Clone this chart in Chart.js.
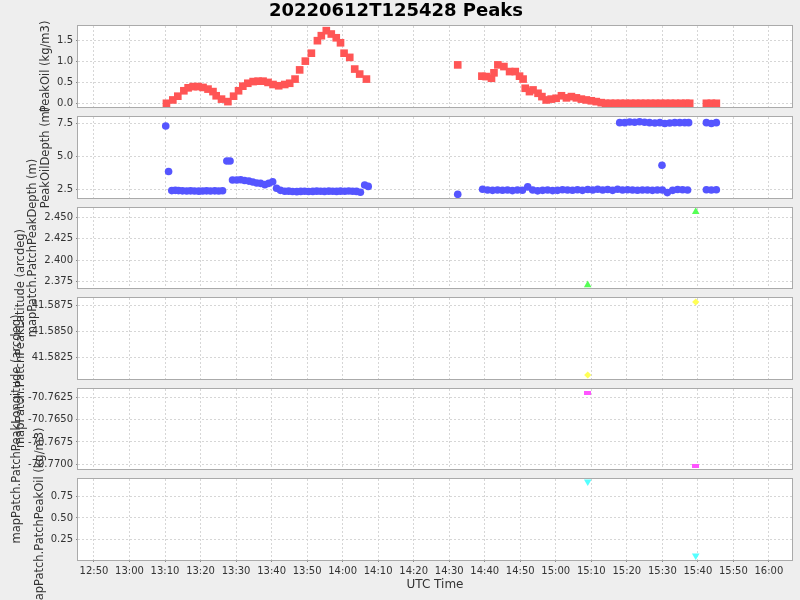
<!DOCTYPE html>
<html>
<head>
<meta charset="utf-8">
<title>20220612T125428 Peaks</title>
<script src="https://cdn.jsdelivr.net/npm/chart.js@4.4.0/dist/chart.umd.min.js"></script>
<style>
  html, body { margin: 0; padding: 0; background: #eeeeee; }
  #wrap { position: relative; width: 800px; height: 600px; overflow: hidden; }
  #wrap canvas { position: absolute; left: 0; top: 0; }
</style>
</head>
<body>
<div id="wrap"></div>
<script>
// times are minutes after 00:00 UTC
const timeTicks = ['12:50', '13:00', '13:10', '13:20', '13:30', '13:40', '13:50', '14:00', '14:10', '14:20',
    '14:30', '14:40', '14:50', '15:00', '15:10', '15:20', '15:30', '15:40', '15:50', '16:00'];

const oilTimes = [790.4, 792.2, 793.6, 795.3, 796.5, 797.9, 799.3, 800.7, 802.1, 803.5, 804.4, 805.9, 807.7,
    809.3, 810.7, 811.9, 813.3, 814.8, 816.2, 817.6, 819.0, 820.4, 822.0, 823.7, 825.1, 826.6, 827.9, 829.5,
    831.2, 832.9, 834.0, 835.4, 836.8, 838.2, 839.4, 840.4, 842.0, 843.4, 844.8, 846.7,
    872.4, 879.2, 880.4, 881.9, 882.6, 883.7, 885.4, 887.0, 888.6, 889.8, 890.8, 891.4, 892.6, 893.6, 895.0,
    896.1, 897.3, 898.7, 900.1, 901.6, 903.0, 904.4, 905.8, 907.2, 908.6, 910.0, 911.4, 912.8,
    914.0, 915.4, 916.8, 918.2, 919.6, 921.1, 922.5, 923.9, 925.3, 926.7, 928.1, 929.5, 930.9, 932.3, 933.7,
    935.2, 936.6, 937.7, 942.4, 943.8, 945.2];
const oilValues = [0.00, 0.08, 0.17, 0.30, 0.37, 0.40, 0.40, 0.38, 0.34, 0.28, 0.18, 0.10, 0.04,
    0.17, 0.30, 0.41, 0.48, 0.52, 0.53, 0.53, 0.50, 0.45, 0.42, 0.45, 0.48, 0.58, 0.80, 1.01,
    1.20, 1.50, 1.62, 1.74, 1.66, 1.57, 1.45, 1.20, 1.10, 0.82, 0.70, 0.58,
    0.92, 0.65, 0.64, 0.60, 0.73, 0.92, 0.88, 0.76, 0.76, 0.65, 0.58, 0.36, 0.28, 0.32, 0.24,
    0.16, 0.08, 0.10, 0.12, 0.18, 0.13, 0.16, 0.13, 0.10, 0.08, 0.06, 0.04, 0.015,
    0, 0, 0, 0, 0, 0, 0, 0, 0, 0, 0, 0, 0, 0, 0,
    0, 0, 0, 0, 0, 0];

const depthTimes = [790.2, 791.0, 791.9, 792.9, 793.8, 794.9, 796.1, 797.2, 798.3, 799.5, 800.6, 801.7, 802.8,
    804.0, 805.1, 806.2, 807.4, 808.3, 809.0, 810.2, 811.3, 812.4, 813.6, 814.7, 815.8, 816.9, 818.1, 819.2,
    820.3, 821.4, 822.5, 823.7, 824.8, 825.9, 827.1, 828.2, 829.3, 830.4, 831.6, 832.7, 833.8, 834.9, 836.1,
    837.2, 838.3, 839.4, 840.6, 841.7, 842.8, 843.9, 845.0, 846.2, 847.2,
    872.4, 879.4, 880.8, 882.2, 883.6, 885.0, 886.4, 887.8, 889.2, 890.6, 892.1, 893.5, 894.9, 896.3, 897.7,
    899.1, 900.5, 901.9, 903.3, 904.7, 906.1, 907.5, 909.0, 910.4, 911.8, 913.2, 914.6, 916.0, 917.4, 918.8,
    920.2, 921.6, 923.0, 924.4, 925.8, 927.2, 928.6, 930.0, 931.4, 932.9, 934.3, 935.7, 937.1,
    918.0, 919.4, 920.8, 922.2, 923.6, 925.0, 926.4, 927.9, 929.3, 930.7, 932.1, 933.5, 934.9, 936.3, 937.4,
    929.9, 942.4, 943.8, 945.2, 942.4, 943.8, 945.2];
const depthValues = [7.30, 3.85, 2.40, 2.42, 2.40, 2.38, 2.37, 2.38, 2.37, 2.36, 2.37, 2.38, 2.37,
    2.38, 2.37, 2.39, 4.64, 4.64, 3.20, 3.20, 3.22, 3.17, 3.12, 3.05, 2.98, 2.95, 2.85, 2.95,
    3.07, 2.58, 2.42, 2.35, 2.36, 2.33, 2.32, 2.34, 2.35, 2.33, 2.34, 2.36, 2.35, 2.34, 2.36,
    2.35, 2.34, 2.36, 2.35, 2.37, 2.35, 2.34, 2.28, 2.83, 2.72,
    2.12, 2.50, 2.45, 2.42, 2.45, 2.43, 2.45, 2.40, 2.45, 2.43, 2.68, 2.45, 2.38, 2.42, 2.45,
    2.40, 2.42, 2.47, 2.45, 2.43, 2.47, 2.42, 2.48, 2.45, 2.50, 2.45, 2.48, 2.42, 2.50, 2.45,
    2.47, 2.45, 2.43, 2.45, 2.45, 2.42, 2.45, 2.45, 2.25, 2.42, 2.48, 2.47, 2.45,
    7.55, 7.55, 7.60, 7.58, 7.62, 7.58, 7.55, 7.52, 7.55, 7.48, 7.52, 7.55, 7.55, 7.55, 7.55,
    4.32, 7.55, 7.48, 7.55, 2.47, 2.45, 2.47];

const patchTimes = [909.0, 939.4];
const patchDepth = [2.3712, 2.4565];
const patchLatitude = [41.58081, 41.58779];
const patchLongitude = [-70.76199, -70.77016];
const patchOil = [0.926, 0.058];

const oilTicks = [0, 0.5, 1.0, 1.5];
const depthTicks = [2.5, 5.0, 7.5];
const patchDepthTicks = [2.375, 2.400, 2.425, 2.450];
const latTicks = [41.5825, 41.5850, 41.5875];
const lonTicks = [-70.7700, -70.7675, -70.7650, -70.7625];
const patchOilTicks = [0.25, 0.50, 0.75];

function toMinutes(s) {
    const p = s.split(':');
    return parseInt(p[0]) * 60 + parseInt(p[1]);
}

function hhmm(m) {
    const h = Math.floor(m / 60);
    const mm = Math.round(m - h * 60);
    return h + ':' + String(mm).padStart(2, '0');
}

function pairs(xs, ys) {
    return xs.map((x, i) => ({ x: x, y: ys[i] }));
}

function rectMarker(w, h, color) {
    const c = document.createElement('canvas');
    c.width = w;
    c.height = h;
    const g = c.getContext('2d');
    g.fillStyle = color;
    g.fillRect(0, 0, w, h);
    return c;
}

const FONT = 'DejaVu Sans';
const GRID = '#d6d6d6';
const TEXT = '#333333';
const tickValues = timeTicks.map(toMinutes);

// white plot area + grey outline
const plotFrame = {
    id: 'plotFrame',
    beforeDraw(chart) {
        const a = chart.chartArea, ctx = chart.ctx;
        ctx.save();
        ctx.fillStyle = '#ffffff';
        ctx.fillRect(a.left, a.top, a.right - a.left, a.bottom - a.top);
        ctx.restore();
    },
    afterDraw(chart) {
        const a = chart.chartArea, ctx = chart.ctx;
        ctx.save();
        ctx.strokeStyle = '#aaaaaa';
        ctx.lineWidth = 1;
        ctx.strokeRect(a.left - 0.5, a.top - 0.5, a.right - a.left + 1, a.bottom - a.top + 1);
        ctx.restore();
    }
};

// rotated y axis label, allowed to run past the plot like the original
const sideLabel = {
    id: 'sideLabel',
    afterDraw(chart, args, opts) {
        if (!opts || !opts.text) return;
        const a = chart.chartArea, ctx = chart.ctx;
        const ys = chart.scales.y;
        ctx.save();
        ctx.font = '10px "' + FONT + '"';
        let maxW = 0;
        ys.ticks.forEach(t => {
            maxW = Math.max(maxW, ctx.measureText(t.label).width);
        });
        const x = a.left - 5 - maxW - 5 - 6;
        ctx.translate(x, (a.top + a.bottom) / 2);
        ctx.rotate(-Math.PI / 2);
        ctx.font = '11.5px "' + FONT + '"';
        ctx.fillStyle = TEXT;
        ctx.textAlign = 'center';
        ctx.textBaseline = 'middle';
        ctx.fillText(opts.text, 0, 0);
        ctx.restore();
    }
};

const bands = [[26, 107], [117, 198], [208, 288], [298, 379], [389, 469], [479, 560]];
const wrap = document.getElementById('wrap');

function makeChart(idx, spec) {
    const canvas = document.createElement('canvas');
    canvas.width = 800;
    canvas.height = 600;
    wrap.appendChild(canvas);
    const band = bands[idx];
    const first = idx === 0;
    const last = idx === bands.length - 1;

    return new Chart(canvas.getContext('2d'), {
        type: 'scatter',
        data: {
            datasets: [{
                data: pairs(spec.xs, spec.ys),
                backgroundColor: spec.color,
                borderWidth: 0,
                pointStyle: spec.style,
                pointRadius: spec.radius,
                pointRotation: spec.rotation || 0,
                pointHoverRadius: spec.radius
            }]
        },
        options: {
            responsive: false,
            animation: false,
            events: [],
            layout: {
                padding: {
                    left: 0,
                    right: 8,
                    top: first ? 0 : band[0],
                    bottom: last ? 0 : 600 - band[1]
                }
            },
            plugins: {
                legend: { display: false },
                tooltip: { enabled: false },
                title: {
                    display: first,
                    text: '20220612T125428 Peaks',
                    color: '#000000',
                    font: { family: FONT, size: 18, weight: 'bold' },
                    padding: { top: 1, bottom: 3.4 }
                },
                sideLabel: { text: spec.label }
            },
            scales: {
                x: {
                    type: 'linear',
                    min: 765.5,
                    max: 966.5,
                    afterBuildTicks: s => { s.ticks = tickValues.map(v => ({ value: v })); },
                    afterFit: s => { s.height = last ? 40 : 0; },
                    grid: {
                        color: GRID,
                        drawTicks: last,
                        tickLength: 2,
                        tickColor: '#888888'
                    },
                    border: { display: false, dash: [2, 2] },
                    ticks: {
                        display: last,
                        autoSkip: false,
                        maxRotation: 0,
                        padding: 3,
                        color: TEXT,
                        font: { family: FONT, size: 10 },
                        callback: v => hhmm(v)
                    },
                    title: {
                        display: last,
                        text: 'UTC Time',
                        color: TEXT,
                        font: { family: FONT, size: 12 },
                        padding: { top: 0, bottom: 8 }
                    }
                },
                y: {
                    min: spec.min,
                    max: spec.max,
                    afterBuildTicks: s => { s.ticks = spec.ticks.map(v => ({ value: v })); },
                    afterFit: s => { s.width = 78; },
                    grid: {
                        color: GRID,
                        drawTicks: true,
                        tickLength: 2,
                        tickColor: '#888888'
                    },
                    border: { display: false, dash: [2, 2] },
                    ticks: {
                        padding: 3,
                        color: TEXT,
                        font: { family: FONT, size: 10 },
                        callback: v => Number(v).toFixed(spec.decimals)
                    }
                }
            }
        },
        plugins: [plotFrame, sideLabel]
    });
}

makeChart(0, {
    xs: oilTimes, ys: oilValues, color: '#ff5555', style: 'rect', radius: 5.4,
    min: -0.089, max: 1.852, ticks: oilTicks, decimals: 1, label: 'PeakOil (kg/m3)'
});
makeChart(1, {
    xs: depthTimes, ys: depthValues, color: '#5555ff', style: 'circle', radius: 3.8,
    min: 1.84, max: 7.977, ticks: depthTicks, decimals: 1, label: 'PeakOilDepth (m)'
});
makeChart(2, {
    xs: patchTimes, ys: patchDepth, color: '#55ff55', style: 'triangle', radius: 4.4,
    min: 2.36766, max: 2.46083, ticks: patchDepthTicks, decimals: 3, label: 'mapPatch.PatchPeakDepth (m)'
});
makeChart(3, {
    xs: patchTimes, ys: patchLatitude, color: '#ffff55', style: 'rectRot', radius: 3.6,
    min: 41.58043, max: 41.58817, ticks: latTicks, decimals: 4, label: 'mapPatch.PatchPeakLatitude (arcdeg)'
});
makeChart(4, {
    xs: patchTimes, ys: patchLongitude, color: '#ff55ff', style: rectMarker(7, 4, '#ff55ff'), radius: 4,
    min: -70.77053, max: -70.76157, ticks: lonTicks, decimals: 4, label: 'mapPatch.PatchPeakLongitude (arcdeg)'
});
makeChart(5, {
    xs: patchTimes, ys: patchOil, color: '#55ffff', style: 'triangle', radius: 4.4, rotation: 180,
    min: 0.007, max: 0.9577, ticks: patchOilTicks, decimals: 2, label: 'mapPatch.PatchPeakOil (kg/m3)'
});
</script>
</body>
</html>
